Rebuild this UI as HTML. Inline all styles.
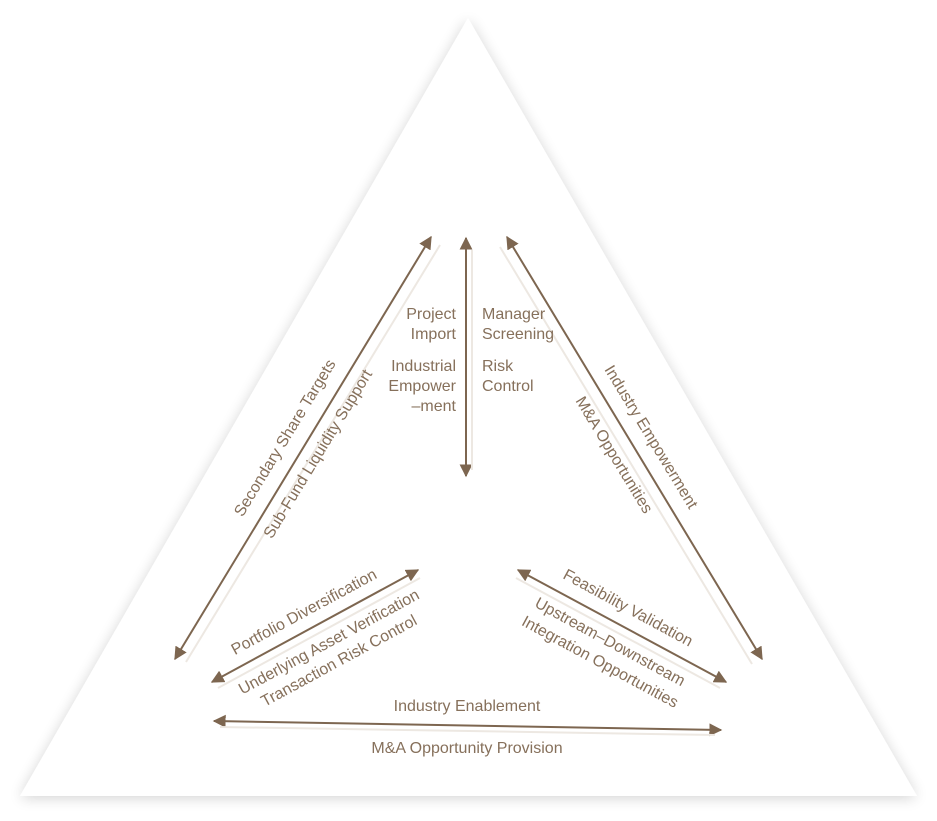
<!DOCTYPE html>
<html><head><meta charset="utf-8"><style>
html,body{margin:0;padding:0;background:#fff;}
svg{display:block;}
text{font-family:"Liberation Sans",sans-serif;font-size:16px;fill:#86705b;}
</style></head><body>
<svg width="937" height="821" viewBox="0 0 937 821" xmlns="http://www.w3.org/2000/svg">
<defs>
<filter id="sh" x="-10%" y="-10%" width="120%" height="120%">
<feGaussianBlur in="SourceAlpha" stdDeviation="7"/>
<feOffset dx="0" dy="2"/>
<feComponentTransfer><feFuncA type="linear" slope="0.18"/></feComponentTransfer>
<feMerge><feMergeNode/><feMergeNode in="SourceGraphic"/></feMerge>
</filter>
<marker id="ah" viewBox="0 0 10 10" refX="9" refY="5" markerWidth="13" markerHeight="13" markerUnits="userSpaceOnUse" orient="auto-start-reverse">
<path d="M0,0 L10,5 L0,10 z" fill="#7d6650"/>
</marker>
</defs>
<polygon points="468,18 20,796 917,796" fill="#fff" filter="url(#sh)"/>
<g stroke="#7d6650" stroke-width="2" fill="none" marker-start="url(#ah)" marker-end="url(#ah)">
<line x1="175" y1="659" x2="431" y2="237"/>
<line x1="466" y1="238" x2="466" y2="476"/>
<line x1="507" y1="237" x2="762" y2="659"/>
<line x1="212" y1="682" x2="418" y2="570"/>
<line x1="518" y1="570" x2="726" y2="682"/>
<line x1="214" y1="721" x2="721" y2="730"/>
</g>
<g stroke="#ede8e2" stroke-width="2" fill="none">
<line x1="186" y1="662" x2="440" y2="245"/>
<line x1="472" y1="250" x2="472" y2="470"/>
<line x1="500" y1="247" x2="752" y2="664"/>
<line x1="218" y1="688" x2="420" y2="578"/>
<line x1="516" y1="578" x2="720" y2="688"/>
<line x1="220" y1="727" x2="715" y2="735"/>
</g>
<text x="456" y="319" text-anchor="end">Project</text>
<text x="456" y="339" text-anchor="end">Import</text>
<text x="456" y="371" text-anchor="end">Industrial</text>
<text x="456" y="391" text-anchor="end">Empower</text>
<text x="456" y="411" text-anchor="end">–ment</text>
<text x="482" y="319">Manager</text>
<text x="482" y="339">Screening</text>
<text x="482" y="371">Risk</text>
<text x="482" y="391">Control</text>
<text transform="translate(285,438) rotate(-58.7)" text-anchor="middle" dy="5">Secondary Share Targets</text>
<text transform="translate(318,454) rotate(-58.7)" text-anchor="middle" dy="5">Sub-Fund Liquidity Support</text>
<text transform="translate(651,437) rotate(58.7)" text-anchor="middle" dy="5">Industry Empowerment</text>
<text transform="translate(614,455) rotate(58.7)" text-anchor="middle" dy="5">M&amp;A Opportunities</text>
<text transform="translate(304,612) rotate(-28.5)" text-anchor="middle" dy="5">Portfolio Diversification</text>
<text transform="translate(329,642) rotate(-28.5)" text-anchor="middle" dy="5">Underlying Asset Verification</text>
<text transform="translate(339,661) rotate(-28.5)" text-anchor="middle" dy="5">Transaction Risk Control</text>
<text transform="translate(628,608) rotate(28.5)" text-anchor="middle" dy="5">Feasibility Validation</text>
<text transform="translate(610,642) rotate(28.5)" text-anchor="middle" dy="5">Upstream–Downstream</text>
<text transform="translate(600,662) rotate(28.5)" text-anchor="middle" dy="5">Integration Opportunities</text>
<text x="467" y="711" text-anchor="middle">Industry Enablement</text>
<text x="467" y="753" text-anchor="middle">M&amp;A Opportunity Provision</text>
</svg>
</body></html>
